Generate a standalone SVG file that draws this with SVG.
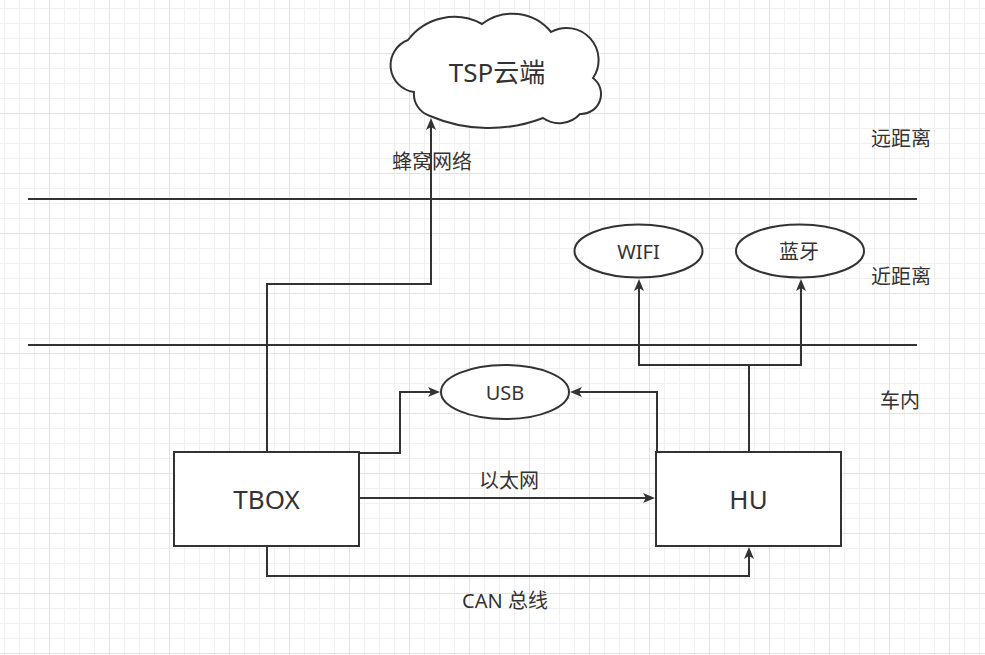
<svg xmlns="http://www.w3.org/2000/svg" width="985" height="655" viewBox="0 0 985 655">
<style>
.ln{fill:none;stroke:#333333;stroke-width:2}
.cn{fill:none;stroke:#333333;stroke-width:2;marker-end:url(#arr)}
.nd{fill:#ffffff;stroke:#333333;stroke-width:2}
.t{font-family:"Noto Sans","Noto Sans CJK SC",sans-serif;fill:#333333;text-anchor:middle}
.big{font-size:26px}
.sm{font-size:20px}
</style>
<defs>
<pattern id="grid" x="4" y="8" width="60" height="60" patternUnits="userSpaceOnUse">
<path d="M0.5,0V60M15.5,0V60M30.5,0V60M0,0.5H60M0,15.5H60M0,30.5H60" stroke="#f0f0f0" stroke-width="1" fill="none"/>
<path d="M45.5,0V60M0,45.5H60" stroke="#e2e2e2" stroke-width="1" fill="none"/>
</pattern>
<marker id="arr" viewBox="0 0 12 10" refX="8" refY="5" markerWidth="12" markerHeight="10" markerUnits="userSpaceOnUse" orient="auto">
<path d="M0,0 L12,5 L0,10 L3,5 Z" fill="#333333"/>
</marker>
</defs>
<rect width="985" height="655" fill="#ffffff"/>
<rect width="985" height="655" fill="url(#grid)"/>
<g id="dividers">
<line class="ln" x1="28" y1="199" x2="917" y2="199"/>
<line class="ln" x1="28" y1="345" x2="917" y2="345"/>
</g>
<g id="connectors">
<path class="cn" d="M267,452 V284 H431 V122"/>
<path class="cn" d="M267,546 V576 H749 V551"/>
<path class="cn" d="M359,498 H651"/>
<path class="cn" d="M359,453 H400 V392 H436"/>
<path class="cn" d="M657,452 V392 H574"/>
<path class="cn" d="M749,452 V365 H639 V283"/>
<path class="cn" d="M749,365 H801 V283"/>
</g>
<g id="cloud">
<path class="nd" d="M414,92 A27,27 0 0 1 408,40 A58,58 0 0 1 482,24 A50,50 0 0 1 551,32 A32,32 0 0 1 593,78 A20,20 0 0 1 580,114 A28,28 0 0 1 543,118 A150,150 0 0 1 430,116 A23,23 0 0 1 414,92 Z"/>
<text class="t big" x="497" y="82">TSP云端</text>
</g>
<g id="wifi">
<ellipse class="nd" cx="638.5" cy="251" rx="64" ry="26.5"/>
<text class="t sm" x="638.5" y="259">WIFI</text>
</g>
<g id="bluetooth">
<ellipse class="nd" cx="800" cy="251" rx="64" ry="26.5"/>
<text class="t sm" x="799" y="259">蓝牙</text>
</g>
<g id="usb">
<ellipse class="nd" cx="505" cy="392" rx="64" ry="27"/>
<text class="t sm" x="505" y="400">USB</text>
</g>
<g id="tbox">
<rect class="nd" x="174" y="452" width="185" height="94"/>
<text class="t big" x="266.5" y="509">TBOX</text>
</g>
<g id="hu">
<rect class="nd" x="656" y="452" width="185" height="94"/>
<text class="t big" x="748.5" y="509">HU</text>
</g>
<g id="labels">
<text class="t sm" x="432" y="169">蜂窝网络</text>
<text class="t sm" x="509" y="487.5">以太网</text>
<text class="t sm" x="505" y="608">CAN 总线</text>
<text class="t sm" x="901" y="145.5">远距离</text>
<text class="t sm" x="901" y="284">近距离</text>
<text class="t sm" x="900" y="407.5">车内</text>
</g>
</svg>
